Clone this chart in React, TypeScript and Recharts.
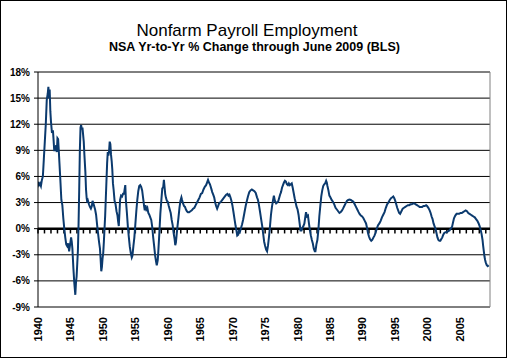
import React from "react";
import { LineChart, Line, XAxis, YAxis, CartesianGrid, ReferenceLine } from "recharts";

const titleText = "Nonfarm Payroll Employment";
const subtitleText = "NSA Yr-to-Yr % Change through June 2009 (BLS)";

const yTicks = [-9, -6, -3, 0, 3, 6, 9, 12, 15, 18];
const xTicks = [1940, 1945, 1950, 1955, 1960, 1965, 1970, 1975, 1980, 1985, 1990, 1995, 2000, 2005];
const yearMarks = [
  1940, 1941, 1942, 1943, 1944, 1945, 1946, 1947, 1948, 1949,
  1950, 1951, 1952, 1953, 1954, 1955, 1956, 1957, 1958, 1959,
  1960, 1961, 1962, 1963, 1964, 1965, 1966, 1967, 1968, 1969,
  1970, 1971, 1972, 1973, 1974, 1975, 1976, 1977, 1978, 1979,
  1980, 1981, 1982, 1983, 1984, 1985, 1986, 1987, 1988, 1989,
  1990, 1991, 1992, 1993, 1994, 1995, 1996, 1997, 1998, 1999,
  2000, 2001, 2002, 2003, 2004, 2005, 2006, 2007, 2008, 2009,
];

// time (fractional year) of each reading
const timeX = [
  1940.0, 1940.15, 1940.3, 1940.45, 1940.6, 1940.75, 1940.9, 1941.05, 1941.2, 1941.35, 1941.5, 1941.6, 1941.7, 1941.8, 1941.9,
  1942.0, 1942.15, 1942.3, 1942.4, 1942.5, 1942.65, 1942.8, 1942.9, 1943.0, 1943.1, 1943.2, 1943.3, 1943.45, 1943.6, 1943.75, 1943.9,
  1944.05, 1944.2, 1944.35, 1944.5, 1944.65, 1944.8, 1944.95, 1945.1, 1945.2, 1945.3, 1945.45, 1945.6, 1945.75, 1945.85, 1945.95,
  1946.05, 1946.15, 1946.25, 1946.35, 1946.45, 1946.55, 1946.65, 1946.75, 1946.85, 1946.95, 1947.05, 1947.15, 1947.3, 1947.4, 1947.5, 1947.6, 1947.7, 1947.85,
  1948.0, 1948.15, 1948.3, 1948.4, 1948.5, 1948.65, 1948.8, 1948.95, 1949.1, 1949.25, 1949.4, 1949.55, 1949.65, 1949.75, 1949.85, 1949.95,
  1950.05, 1950.15, 1950.25, 1950.35, 1950.45, 1950.55, 1950.65, 1950.75, 1950.85, 1950.95, 1951.05, 1951.15, 1951.25, 1951.35, 1951.45, 1951.55, 1951.65, 1951.8, 1951.95,
  1952.1, 1952.25, 1952.35, 1952.45, 1952.55, 1952.65, 1952.8, 1952.95, 1953.1, 1953.25, 1953.35, 1953.45, 1953.55, 1953.7, 1953.85,
  1954.0, 1954.15, 1954.3, 1954.45, 1954.55, 1954.7, 1954.85, 1955.0, 1955.15, 1955.3, 1955.45, 1955.6, 1955.75, 1955.9,
  1956.05, 1956.2, 1956.35, 1956.45, 1956.55, 1956.7, 1956.85, 1957.0, 1957.15, 1957.3, 1957.45, 1957.6, 1957.75, 1957.9,
  1958.05, 1958.2, 1958.3, 1958.45, 1958.55, 1958.7, 1958.85, 1959.0, 1959.15, 1959.3, 1959.4, 1959.5, 1959.6, 1959.7, 1959.85,
  1960.0, 1960.15, 1960.3, 1960.45, 1960.6, 1960.75, 1960.9, 1961.05, 1961.15, 1961.25, 1961.35, 1961.5, 1961.65, 1961.8, 1961.95,
  1962.1, 1962.2, 1962.35, 1962.5, 1962.65, 1962.8, 1962.95, 1963.1, 1963.3, 1963.5, 1963.7, 1963.9,
  1964.1, 1964.3, 1964.5, 1964.7, 1964.9, 1965.1, 1965.3, 1965.5, 1965.7, 1965.9,
  1966.05, 1966.2, 1966.35, 1966.5, 1966.7, 1966.85, 1967.0, 1967.15, 1967.3, 1967.45, 1967.6, 1967.75, 1967.9,
  1968.05, 1968.2, 1968.4, 1968.6, 1968.8, 1969.0, 1969.2, 1969.35, 1969.5, 1969.65, 1969.8, 1969.95,
  1970.1, 1970.3, 1970.45, 1970.6, 1970.7, 1970.85, 1970.95, 1971.1, 1971.25, 1971.45, 1971.6, 1971.8,
  1972.0, 1972.15, 1972.35, 1972.55, 1972.75, 1972.95, 1973.15, 1973.35, 1973.55, 1973.75, 1973.9,
  1974.05, 1974.2, 1974.4, 1974.55, 1974.7, 1974.85, 1975.0, 1975.15, 1975.3, 1975.45, 1975.6, 1975.75, 1975.9,
  1976.05, 1976.2, 1976.35, 1976.5, 1976.7, 1976.85, 1977.0, 1977.15, 1977.3, 1977.45, 1977.6, 1977.75, 1977.9,
  1978.05, 1978.2, 1978.35, 1978.5, 1978.65, 1978.8, 1978.95, 1979.1, 1979.25, 1979.4, 1979.55, 1979.7, 1979.85,
  1980.0, 1980.15, 1980.3, 1980.45, 1980.6, 1980.75, 1980.9, 1981.05, 1981.2, 1981.3, 1981.45, 1981.6, 1981.75, 1981.9,
  1982.05, 1982.2, 1982.35, 1982.5, 1982.65, 1982.75, 1982.9, 1983.05, 1983.2, 1983.35, 1983.5, 1983.65, 1983.8, 1983.95,
  1984.1, 1984.25, 1984.4, 1984.5, 1984.6, 1984.75, 1984.9, 1985.05, 1985.25, 1985.45, 1985.65, 1985.85,
  1986.05, 1986.25, 1986.45, 1986.65, 1986.85, 1987.0, 1987.2, 1987.4, 1987.6, 1987.8,
  1988.0, 1988.2, 1988.4, 1988.6, 1988.8, 1989.0, 1989.2, 1989.4, 1989.55, 1989.75, 1989.95,
  1990.15, 1990.35, 1990.55, 1990.7, 1990.85, 1991.0, 1991.15, 1991.35, 1991.5, 1991.7, 1991.85,
  1992.0, 1992.2, 1992.4, 1992.6, 1992.8, 1993.0, 1993.2, 1993.4, 1993.6, 1993.8,
  1994.0, 1994.2, 1994.4, 1994.6, 1994.75, 1994.9, 1995.05, 1995.2, 1995.35, 1995.5, 1995.65, 1995.8,
  1996.0, 1996.2, 1996.4, 1996.6, 1996.8, 1997.0, 1997.2, 1997.4, 1997.6, 1997.8,
  1998.0, 1998.2, 1998.4, 1998.6, 1998.8, 1999.0, 1999.2, 1999.4, 1999.6, 1999.8, 1999.95,
  2000.15, 2000.35, 2000.5, 2000.65, 2000.8, 2000.95, 2001.1, 2001.25, 2001.4, 2001.55, 2001.7, 2001.85,
  2002.0, 2002.15, 2002.3, 2002.45, 2002.6, 2002.8, 2003.0, 2003.2, 2003.4, 2003.6, 2003.8, 2003.95,
  2004.1, 2004.3, 2004.5, 2004.7, 2004.9, 2005.1, 2005.3, 2005.5, 2005.7, 2005.9,
  2006.1, 2006.3, 2006.5, 2006.7, 2006.9, 2007.1, 2007.3, 2007.5, 2007.7, 2007.9,
  2008.05, 2008.2, 2008.35, 2008.5, 2008.6, 2008.7, 2008.8, 2008.9, 2009.0, 2009.15, 2009.3, 2009.45,
];

// NSA year-over-year % change in nonfarm payrolls
const pctChange = [
  5.4, 5.0, 5.2, 4.9, 5.6, 6.0, 8.0, 10.0, 12.0, 14.8, 15.5, 16.3, 15.0, 16.0, 13.5,
  12.3, 11.0, 11.3, 10.2, 9.0, 9.0, 9.6, 8.8, 10.4, 10.3, 9.0, 7.6, 5.5, 3.3, 2.7, 1.2,
  0.0, -1.0, -1.8, -2.0, -1.7, -2.6, -1.8, -1.0, -1.5, -2.3, -4.5, -6.3, -7.6, -6.2, -5.5,
  -4.0, -2.5, 0.5, 4.5, 9.0, 11.6, 11.9, 11.4, 11.6, 10.8, 10.0, 8.5, 6.5, 4.5, 3.5, 3.0, 3.2, 2.8,
  2.5, 2.3, 2.6, 3.2, 3.0, 2.6, 2.2, 1.6, 0.5, -0.5, -1.5, -2.3, -3.5, -4.9, -4.4, -3.4,
  -2.8, -1.5, 0.0, 1.5, 3.5, 5.5, 7.5, 8.8, 8.4, 8.9, 10.0, 9.7, 8.5, 7.8, 6.8, 5.2, 4.5, 3.2, 2.8,
  2.0, 1.5, 0.8, 0.3, 1.8, 3.3, 3.8, 3.7, 4.0, 4.0, 4.5, 5.0, 3.2, 1.8, 0.2,
  -1.0, -2.1, -2.8, -3.3, -3.1, -2.0, -1.0, 0.5, 2.0, 3.3, 4.3, 4.9, 5.0, 4.8,
  4.4, 3.5, 2.6, 2.1, 2.7, 2.2, 2.4, 1.8, 1.6, 1.3, 1.0, 0.2, -1.0, -2.0,
  -3.1, -3.8, -4.2, -3.6, -2.5, -0.5, 1.7, 3.2, 4.6, 4.8, 5.6, 4.8, 4.0, 3.6, 3.2,
  3.1, 2.6, 2.2, 1.8, 1.0, 0.4, -0.5, -1.2, -1.9, -1.6, -0.8, 0.3, 1.3, 2.4, 3.2,
  3.6, 3.3, 2.9, 2.6, 2.5, 2.2, 2.0, 1.9, 1.9, 2.0, 2.1, 2.3,
  2.4, 2.7, 3.0, 3.3, 3.6, 4.0, 4.1, 4.5, 4.8, 5.0,
  5.3, 5.6, 5.3, 5.1, 4.6, 4.2, 3.9, 3.6, 3.0, 2.6, 2.3, 2.6, 2.9,
  3.0, 3.1, 3.3, 3.5, 3.7, 3.9, 4.0, 3.8, 3.9, 3.6, 3.2, 2.7,
  2.0, 1.0, 0.3, -0.3, -0.8, -0.7, -0.3, -0.4, 0.0, 0.5, 1.0, 1.8,
  2.6, 3.1, 3.7, 4.2, 4.4, 4.5, 4.4, 4.3, 4.1, 3.6, 3.3,
  2.7, 2.0, 1.0, 0.3, -0.6, -1.5, -2.0, -2.4, -2.6, -1.9, -0.9, 0.3, 1.6,
  2.5, 3.2, 3.8, 3.2, 2.9, 3.0, 3.1, 3.5, 3.9, 4.2, 4.7, 5.0, 5.3,
  5.5, 5.4, 5.1, 5.0, 5.2, 5.0, 5.1, 5.2, 4.7, 4.1, 3.5, 3.0, 2.5,
  2.2, 1.6, 0.7, -0.2, -0.2, 0.1, 0.3, 0.6, 1.4, 1.9, 1.4, 1.5, 0.6, -0.2,
  -0.8, -1.3, -1.7, -2.3, -2.6, -2.6, -1.8, -1.3, -0.2, 1.4, 2.6, 3.7, 4.4, 4.9,
  5.1, 5.2, 5.5, 5.3, 4.9, 4.4, 3.8, 3.6, 3.3, 3.1, 2.8, 2.4,
  2.2, 2.0, 1.8, 1.9, 2.1, 2.3, 2.6, 2.9, 3.2, 3.3,
  3.35, 3.3, 3.2, 3.1, 2.8, 2.5, 2.2, 1.9, 1.7, 1.5, 1.4,
  1.2, 0.9, 0.6, 0.1, -0.5, -0.9, -1.2, -1.4, -1.3, -1.0, -0.8,
  -0.5, 0.0, 0.4, 0.6, 0.9, 1.3, 1.6, 1.9, 2.4, 2.8,
  3.0, 3.3, 3.5, 3.6, 3.7, 3.5, 3.2, 2.8, 2.4, 2.1, 1.8, 1.7,
  2.0, 2.3, 2.4, 2.5, 2.6, 2.7, 2.7, 2.8, 2.8, 2.9,
  2.9, 2.8, 2.7, 2.6, 2.5, 2.5, 2.5, 2.6, 2.6, 2.7, 2.6,
  2.4, 2.1, 1.8, 1.4, 1.1, 0.6, 0.3, 0.0, -0.5, -1.0, -1.3, -1.4,
  -1.4, -1.2, -1.0, -0.7, -0.5, -0.4, -0.4, -0.3, -0.2, 0.0, 0.2, 0.7,
  1.2, 1.5, 1.7, 1.7, 1.7, 1.8, 1.8, 1.9, 2.0, 2.1,
  2.0, 1.8, 1.7, 1.6, 1.5, 1.4, 1.3, 1.1, 0.9, 0.6,
  0.3, -0.1, -0.6, -1.3, -2.0, -2.6, -3.2, -3.6, -3.9, -4.2, -4.3, -4.2,
];

const data = timeX.map((t, i) => ({ t, v: pctChange[i] }));

const FONT = "'Liberation Sans', Arial, sans-serif";
const X_MAX = 2009.65;

const XTick = (props: any) => {
  const { x, y, payload } = props;
  const ty = y + 10;
  return (
    <text
      x={x}
      y={ty}
      transform={`rotate(-90, ${x}, ${ty})`}
      textAnchor="end"
      dominantBaseline="central"
      fontSize={11}
      fontWeight="bold"
      fontFamily={FONT}
      fill="#000"
    >
      {payload.value}
    </text>
  );
};

export default function App() {
  return (
    <div style={{ position: "absolute", left: 0, top: 0, width: 507, height: 358, background: "#fff" }}>
      <LineChart
        width={507}
        height={358}
        data={data}
        margin={{ top: 72, right: 17, bottom: 0, left: 0 }}
      >
        <CartesianGrid vertical={false} stroke="#000" strokeWidth={1} />
        <XAxis
          type="number"
          dataKey="t"
          domain={[1940, X_MAX]}
          ticks={xTicks}
          interval={0}
          allowDataOverflow
          tickLine={false}
          tickSize={0}
          tickMargin={0}
          axisLine={{ stroke: "#808080" }}
          height={51}
          tick={<XTick />}
        />
        <YAxis
          type="number"
          domain={[-9, 18]}
          ticks={yTicks}
          interval={0}
          allowDataOverflow
          width={38}
          tickSize={4}
          tickMargin={4}
          axisLine={{ stroke: "#000" }}
          tickLine={{ stroke: "#000" }}
          tickFormatter={(v: number) => `${v}%`}
          tick={{ fill: "#000", fontSize: 10, fontWeight: "bold", fontFamily: FONT }}
        />
        <ReferenceLine y={18} stroke="#808080" />
        <ReferenceLine x={X_MAX} stroke="#808080" />
        <ReferenceLine y={0} stroke="#000" strokeWidth={2.5} />
        {yearMarks.map((yr) => (
          <ReferenceLine
            key={yr}
            segment={[{ x: yr, y: 0 }, { x: yr, y: -0.55 }]}
            stroke="#000"
            strokeWidth={1.5}
          />
        ))}
        <Line
          type="linear"
          dataKey="v"
          stroke="#0B3A6E"
          strokeWidth={2}
          dot={false}
          activeDot={false}
          isAnimationActive={false}
        />
      </LineChart>
      <svg
        width={507}
        height={358}
        style={{ position: "absolute", left: 0, top: 0, pointerEvents: "none" }}
      >
        <rect x={0.5} y={0.5} width={506} height={357} fill="none" stroke="#000" strokeWidth={1} />
        <text x={247} y={36} textAnchor="middle" fontFamily={FONT} fontSize={17} fill="#000">
          {titleText}
        </text>
        <text x={254.5} y={51} textAnchor="middle" fontFamily={FONT} fontSize={12.5} fontWeight="bold" fill="#000">
          {subtitleText}
        </text>
      </svg>
    </div>
  );
}
